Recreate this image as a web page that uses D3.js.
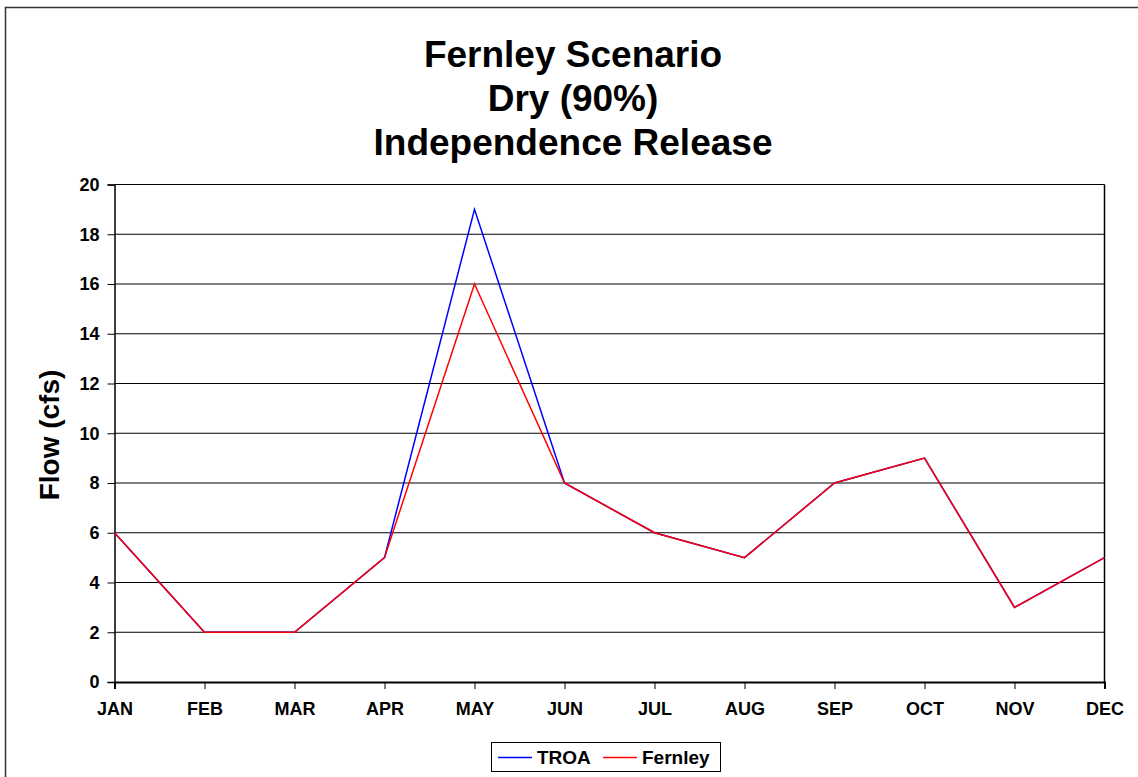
<!DOCTYPE html>
<html><head><meta charset="utf-8">
<script src="https://cdn.jsdelivr.net/npm/d3@7"></script>
<style>body{margin:0;background:#fff}svg{display:block;font-family:"Liberation Sans",Arial,sans-serif}</style>
</head><body><svg id="c" width="1138" height="777"></svg>
<script>
const months = ["JAN","FEB","MAR","APR","MAY","JUN","JUL","AUG","SEP","OCT","NOV","DEC"];
const troa = [6,2,2,5,19,8,6,5,8,9,3,5];
const fernley = [6,2,2,5,16,8,6,5,8,9,3,5];
const yTicks = [0,2,4,6,8,10,12,14,16,18,20];
const titleLines = ["Fernley Scenario","Dry (90%)","Independence Release"];

const svg = d3.select("#c");
const L = 114.5, R = 1104.5, T = 184.5, B = 682;
svg.append("rect").attr("x",5.5).attr("y",7.5).attr("width",1140).attr("height",780)
  .attr("fill","#fff").attr("stroke","#333").attr("stroke-width",1.5);

const x = d3.scalePoint().domain(months).range([L,R]);
const y = d3.scaleLinear().domain([0,20]).range([B,T]);

svg.append("g").selectAll("line").data(yTicks.filter(d=>d>0)).join("line")
  .attr("x1",L).attr("x2",R).attr("y1",d=>y(d)).attr("y2",d=>y(d))
  .attr("stroke","#000").attr("stroke-width",1);

svg.append("line").attr("x1",R).attr("x2",R).attr("y1",T).attr("y2",B).attr("stroke","#000").attr("stroke-width",1.5);

const ya = svg.append("g").attr("transform",`translate(${L},0)`)
  .call(d3.axisLeft(y).tickValues(yTicks).tickSize(7).tickPadding(8));
ya.select(".domain").attr("stroke-width",1.5);
ya.selectAll("text").attr("font-size",18).attr("font-weight","bold").attr("fill","#000")
  .attr("font-family","Liberation Sans, Arial, sans-serif");

const xa = svg.append("g").attr("transform",`translate(0,${B})`)
  .call(d3.axisBottom(x).tickSize(7).tickPadding(13));
xa.select(".domain").attr("stroke-width",2);
xa.selectAll("text").attr("font-size",18).attr("font-weight","bold").attr("fill","#000")
  .attr("font-family","Liberation Sans, Arial, sans-serif");

const line = d3.line().x((d,i)=>x(months[i])).y(d=>y(d));
svg.append("path").datum(troa).attr("d",line).attr("fill","none").attr("stroke","#0000ff").attr("stroke-width",1.5);
svg.append("path").datum(fernley).attr("d",line).attr("fill","none").attr("stroke","#ff0000").attr("stroke-width",1.5);

svg.append("g").selectAll("text").data(titleLines).join("text")
  .attr("x",573).attr("y",(d,i)=>67+i*44).attr("text-anchor","middle")
  .attr("font-size",37).attr("font-weight","bold").text(d=>d);

svg.append("text").attr("transform","translate(59,435) rotate(-90)").attr("text-anchor","middle")
  .attr("font-size",28).attr("font-weight","bold").text("Flow (cfs)");

const lg = svg.append("g");
lg.append("rect").attr("x",491.5).attr("y",742.5).attr("width",229).attr("height",29)
  .attr("fill","#fff").attr("stroke","#000").attr("stroke-width",1);
const items = [{n:"TROA",c:"#0000ff",x:498},{n:"Fernley",c:"#ff0000",x:603}];
items.forEach(it=>{
  lg.append("line").attr("x1",it.x).attr("x2",it.x+34).attr("y1",757.5).attr("y2",757.5).attr("stroke",it.c).attr("stroke-width",1.5);
  lg.append("text").attr("x",it.x+39).attr("y",764).attr("font-size",19).attr("font-weight","bold").text(it.n);
});
</script></body></html>
